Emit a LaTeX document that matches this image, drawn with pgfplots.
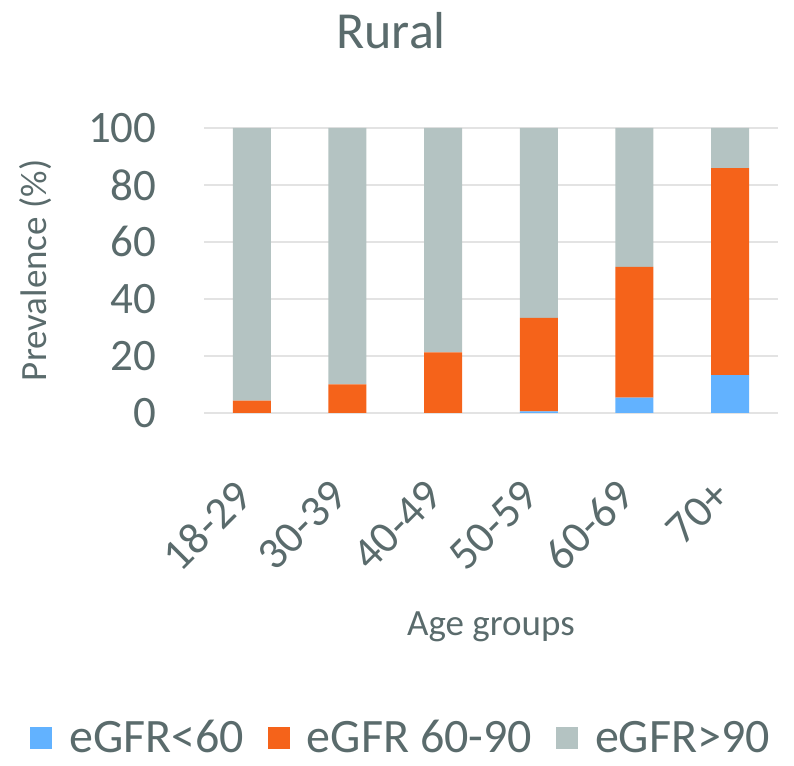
\documentclass[border=0pt]{standalone}
\usepackage{pgfplots}
\pgfplotsset{compat=1.18}
\usepackage{fontspec}
\setmainfont{Carlito}
\definecolor{txt}{HTML}{5A6B6C}
\definecolor{cblue}{HTML}{62B2FF}
\definecolor{corange}{HTML}{F5631A}
\definecolor{cgray}{HTML}{B4C3C2}
\definecolor{gridc}{HTML}{E3E3E3}

\begin{document}
\begin{tikzpicture}
\begin{axis}[
  ybar stacked,
  bar width=19pt,
  scale only axis,
  width=287pt, height=142.5pt,
  xmin=-0.5, xmax=5.5,
  ymin=0, ymax=100,
  xtick={0,...,5},
  xticklabels={18-29,30-39,40-49,50-59,60-69,70+},
  ytick={0,20,...,100},
  ymajorgrids,
  grid style={gridc, line width=0.8pt},
  axis line style={draw=none},
  major tick style={draw=none},
  clip=false,
  /pgf/number format/assume math mode=true,
  ticklabel style={text=txt, font=\fontsize{22.5}{27}\selectfont, inner sep=0pt},
  yticklabel style={xshift=-23.5pt},
  xticklabel style={xshift=-4pt, yshift=-37.5pt, rotate=45, anchor=east},
  title={Rural},
  title style={text=txt, font=\fontsize{26}{30}\selectfont,
    at={(axis description cs:0.326,1)}, anchor=base, yshift=33.5pt},
  xlabel={Age groups},
  xlabel style={text=txt, font=\fontsize{18.5}{22}\selectfont,
    at={(axis description cs:0.5,0)}, anchor=base, yshift=-111.5pt},
  ylabel={Prevalence (\%)},
  ylabel style={text=txt, font=\fontsize{18.5}{22}\selectfont,
    at={(axis description cs:-0.2927,0.5)}, anchor=center},
  legend columns=3,
  legend image code/.code={\fill[#1] (0pt,-5.5pt) rectangle (11pt,5.5pt);},
  legend style={at={(axis description cs:0.3415,-1.1404)}, anchor=center,
    draw=none, fill=none, text=txt, font=\fontsize{24}{28}\selectfont,
    nodes={inner sep=0pt}, column sep=8.5pt,
    /tikz/every even column/.append style={column sep=12pt}},
]
\addplot[fill=cblue, draw=none] coordinates {(0,0) (1,0) (2,0) (3,0.6) (4,5.4) (5,13.3)};
\addlegendentry{eGFR<60}
\addplot[fill=corange, draw=none] coordinates {(0,4.3) (1,10.0) (2,21.3) (3,32.8) (4,45.9) (5,72.6)};
\addlegendentry{eGFR 60-90}
\addplot[fill=cgray, draw=none] coordinates {(0,95.7) (1,90.0) (2,78.7) (3,66.6) (4,48.7) (5,14.1)};
\addlegendentry{eGFR>90}
\path (axis description cs:-0.3554,1.449) rectangle (axis description cs:1.0279,-1.2386);
\end{axis}
\end{tikzpicture}
\end{document}
